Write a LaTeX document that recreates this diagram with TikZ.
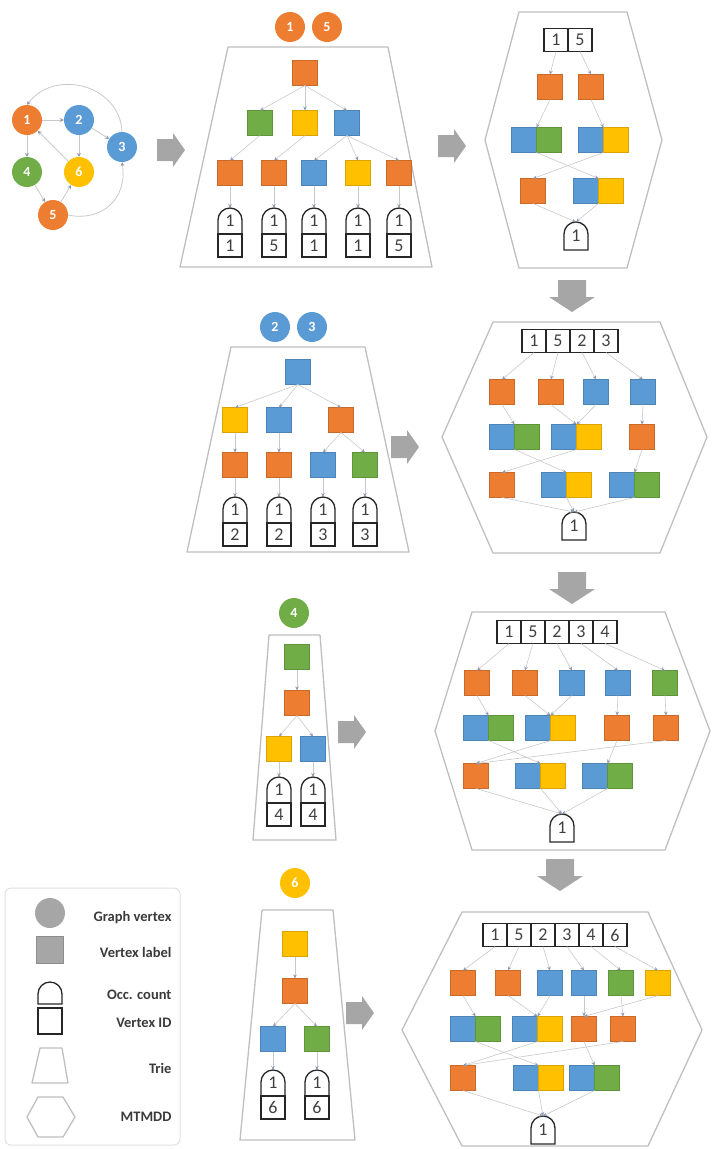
\documentclass[tikz,border=0pt]{standalone}
\usepackage{fontspec}
\setmainfont{Carlito}
\usetikzlibrary{positioning,arrows.meta}

\definecolor{vorange}{HTML}{ED7D31}
\definecolor{vblue}{HTML}{5B9BD5}
\definecolor{vgreen}{HTML}{70AD47}
\definecolor{vyellow}{HTML}{FFC000}
\definecolor{shellgray}{HTML}{BFBFBF}
\definecolor{bigarrow}{HTML}{A6A6A6}
\definecolor{linkgray}{HTML}{C9C9C9}
\definecolor{tipgray}{HTML}{8C9BB0}
\definecolor{legtext}{HTML}{3A3A3A}

\tikzset{
  gvert/.style={circle, fill=#1, minimum size=30pt, inner sep=0pt, text=white, font=\fontsize{14}{14}\selectfont\bfseries},
  vlab/.style={fill=#1, draw=#1!85!black, line width=0.3pt, minimum size=25pt, inner sep=0pt, outer sep=0pt},
  occ/.style={minimum width=24pt, minimum height=26pt, inner sep=0pt, outer sep=0pt, font=\fontsize{18}{18}\selectfont, text=black!75},
  idc/.style={draw=black!85, line width=1.3pt, minimum width=24pt, minimum height=23pt, inner sep=0pt, outer sep=0pt, font=\fontsize{18}{18}\selectfont, text=black!75},
  domeline/.style={draw=black!85, line width=1.3pt},
  shell/.style={draw=shellgray, line width=1.3pt, line join=round},
  lnk/.style={draw=linkgray, line width=0.6pt, -{Stealth[length=4pt,width=3.5pt,color=tipgray]}},
  gedge/.style={draw=linkgray, line width=0.8pt, -{Stealth[length=4pt,width=4pt,color=tipgray]}},
  legtxt/.style={anchor=east, text=legtext, font=\fontsize{14.5}{16}\selectfont\bfseries},
}

% dome outline round an occurrence node
\newcommand{\domeshape}[1]{\draw[domeline] (#1.south west) -- ([yshift=-12pt]#1.north west) arc[start angle=180, end angle=0, radius=12pt] -- (#1.south east) -- cycle;}
% block arrows, right and down
\newcommand{\rblock}[2]{\fill[bigarrow] ({#1-14},{#2-11}) -- ({#1+2},{#2-11}) -- ({#1+2},{#2-17}) -- ({#1+14},{#2}) -- ({#1+2},{#2+17}) -- ({#1+2},{#2+11}) -- ({#1-14},{#2+11}) -- cycle;}
\newcommand{\dblock}[2]{\fill[bigarrow] ({#1-14},{#2-16}) -- ({#1+14},{#2-16}) -- ({#1+14},{#2+1}) -- ({#1+23},{#2+1}) -- ({#1},{#2+16}) -- ({#1-23},{#2+1}) -- ({#1-14},{#2+1}) -- cycle;}

\begin{document}
\begin{tikzpicture}[x=1pt,y=-1pt]
\useasboundingbox (0,0) rectangle (714,1149);

% shells
\draw[shell] (228,47) -- (388,47) -- (432,267) -- (180,267) -- cycle;
\draw[shell] (231,347) -- (365,347) -- (409,552) -- (187,552) -- cycle;
\draw[shell] (269,635) -- (320,635) -- (336,840) -- (253,840) -- cycle;
\draw[shell] (262,910) -- (333,910) -- (355,1140) -- (240,1140) -- cycle;
\draw[shell] (519,12) -- (627,12) -- (662,140) -- (627,268) -- (519,268) -- (485,140) -- cycle;
\draw[shell] (493,322) -- (660,322) -- (707,437) -- (660,553) -- (493,553) -- (442,437) -- cycle;
\draw[shell] (472,612) -- (665,612) -- (710,731) -- (665,850) -- (472,850) -- (435,731) -- cycle;
\draw[shell] (462,912) -- (648,912) -- (702,1030) -- (648,1146) -- (462,1146) -- (402,1030) -- cycle;

% graph
\node[gvert=vorange] (g1) at (27,120) {1};
\node[gvert=vblue] (g2) at (79,120) {2};
\node[gvert=vblue] (g3) at (122,147) {3};
\node[gvert=vgreen] (g4) at (27,172) {4};
\node[gvert=vyellow] (g6) at (79,172) {6};
\node[gvert=vorange] (g5) at (53,215) {5};
\draw[gedge] (g1) -- (g2);
\draw[gedge] (g1) -- (g4);
\draw[gedge] (g2) -- (g6);
\draw[gedge] (g2) -- (g3);
\draw[gedge] (g6) -- (g1);
\draw[gedge] (g4) -- (g5);
\draw[gedge] (g5) -- (g6);
\draw[gedge] (g5.east) .. controls (100,222) and (128,200) .. (g3.south);
\draw[gedge] (g3.north) .. controls (120,85) and (55,68) .. (g1.north);

% big arrows
\rblock{171}{150}
\rblock{452}{146}
\dblock{572}{296}
\rblock{405}{447}
\dblock{572}{588}
\rblock{352}{732}
\dblock{560}{875}
\rblock{360}{1013}

% trie 1
\node[gvert=vorange] (t1v1) at (290,27) {1};
\node[gvert=vorange] (t1v5) at (327,27) {5};
\node[vlab=vorange] (t1a) at (305,73) {};
\node[vlab=vgreen] (t1b1) at (260,123) {};
\node[vlab=vyellow] (t1b2) at (305,123) {};
\node[vlab=vblue] (t1b3) at (347,123) {};
\node[vlab=vorange] (t1c1) at (230,173) {};
\node[vlab=vorange] (t1c2) at (274,173) {};
\node[vlab=vblue] (t1c3) at (314,173) {};
\node[vlab=vyellow] (t1c4) at (358,173) {};
\node[vlab=vorange] (t1c5) at (399,173) {};
\node[occ] (t1o1) at (230,221) {1}; \domeshape{t1o1}
\node[idc, below=0pt of t1o1] (t1i1) {1};
\node[occ] (t1o2) at (274,221) {1}; \domeshape{t1o2}
\node[idc, below=0pt of t1o2] (t1i2) {5};
\node[occ] (t1o3) at (314,221) {1}; \domeshape{t1o3}
\node[idc, below=0pt of t1o3] (t1i3) {1};
\node[occ] (t1o4) at (358,221) {1}; \domeshape{t1o4}
\node[idc, below=0pt of t1o4] (t1i4) {1};
\node[occ] (t1o5) at (399,221) {1}; \domeshape{t1o5}
\node[idc, below=0pt of t1o5] (t1i5) {5};
\draw[lnk] (t1a.south) -- (t1b1.north);
\draw[lnk] (t1a.south) -- (t1b2.north);
\draw[lnk] (t1a.south) -- (t1b3.north);
\draw[lnk] (t1b1.south) -- (t1c1.north);
\draw[lnk] (t1b2.south) -- (t1c2.north);
\draw[lnk] (t1b3.south) -- (t1c3.north);
\draw[lnk] (t1b3.south) -- (t1c4.north);
\draw[lnk] (t1b3.south) -- (t1c5.north);
\draw[lnk] (t1c1.south) -- (t1o1.north);
\draw[lnk] (t1c2.south) -- (t1o2.north);
\draw[lnk] (t1c3.south) -- (t1o3.north);
\draw[lnk] (t1c4.south) -- (t1o4.north);
\draw[lnk] (t1c5.south) -- (t1o5.north);

% trie 2
\node[gvert=vblue] (t2v2) at (275,327) {2};
\node[gvert=vblue] (t2v3) at (312,327) {3};
\node[vlab=vblue] (t2a) at (298,372) {};
\node[vlab=vyellow] (t2b1) at (235,420) {};
\node[vlab=vblue] (t2b2) at (279,420) {};
\node[vlab=vorange] (t2b3) at (341,420) {};
\node[vlab=vorange] (t2c1) at (235,465) {};
\node[vlab=vorange] (t2c2) at (279,465) {};
\node[vlab=vblue] (t2c3) at (323,465) {};
\node[vlab=vgreen] (t2c4) at (365,465) {};
\node[occ] (t2o1) at (235,510) {1}; \domeshape{t2o1}
\node[idc, below=0pt of t2o1] (t2i1) {2};
\node[occ] (t2o2) at (279,510) {1}; \domeshape{t2o2}
\node[idc, below=0pt of t2o2] (t2i2) {2};
\node[occ] (t2o3) at (323,510) {1}; \domeshape{t2o3}
\node[idc, below=0pt of t2o3] (t2i3) {3};
\node[occ] (t2o4) at (365,510) {1}; \domeshape{t2o4}
\node[idc, below=0pt of t2o4] (t2i4) {3};
\draw[lnk] (t2a.south) -- (t2b1.north);
\draw[lnk] (t2a.south) -- (t2b2.north);
\draw[lnk] (t2a.south) -- (t2b3.north);
\draw[lnk] (t2b1.south) -- (t2c1.north);
\draw[lnk] (t2b2.south) -- (t2c2.north);
\draw[lnk] (t2b3.south) -- (t2c3.north);
\draw[lnk] (t2b3.south) -- (t2c4.north);
\draw[lnk] (t2c1.south) -- (t2o1.north);
\draw[lnk] (t2c2.south) -- (t2o2.north);
\draw[lnk] (t2c3.south) -- (t2o3.north);
\draw[lnk] (t2c4.south) -- (t2o4.north);

% trie 3
\node[gvert=vgreen] (t3v4) at (294,613) {4};
\node[vlab=vgreen] (t3a) at (297,657) {};
\node[vlab=vorange] (t3b) at (297,703) {};
\node[vlab=vyellow] (t3c1) at (279,749) {};
\node[vlab=vblue] (t3c2) at (313,749) {};
\node[occ] (t3o1) at (279,790) {1}; \domeshape{t3o1}
\node[idc, below=0pt of t3o1] (t3i1) {4};
\node[occ] (t3o2) at (313,790) {1}; \domeshape{t3o2}
\node[idc, below=0pt of t3o2] (t3i2) {4};
\draw[lnk] (t3a.south) -- (t3b.north);
\draw[lnk] (t3b.south) -- (t3c1.north);
\draw[lnk] (t3b.south) -- (t3c2.north);
\draw[lnk] (t3c1.south) -- (t3o1.north);
\draw[lnk] (t3c2.south) -- (t3o2.north);

% trie 4
\node[gvert=vyellow] (t4v6) at (295,883) {6};
\node[vlab=vyellow] (t4a) at (295,944) {};
\node[vlab=vorange] (t4b) at (295,991) {};
\node[vlab=vblue] (t4c1) at (273,1039) {};
\node[vlab=vgreen] (t4c2) at (317,1039) {};
\node[occ] (t4o1) at (273,1083) {1}; \domeshape{t4o1}
\node[idc, below=0pt of t4o1] (t4i1) {6};
\node[occ] (t4o2) at (317,1083) {1}; \domeshape{t4o2}
\node[idc, below=0pt of t4o2] (t4i2) {6};
\draw[lnk] (t4a.south) -- (t4b.north);
\draw[lnk] (t4b.south) -- (t4c1.north);
\draw[lnk] (t4b.south) -- (t4c2.north);
\draw[lnk] (t4c1.south) -- (t4o1.north);
\draw[lnk] (t4c2.south) -- (t4o2.north);

% mtmdd 1
\node[idc] (m1i1) at (556,40) {1};
\node[idc, right=0pt of m1i1] (m1i5) {5};
\node[vlab=vorange] (m1a1) at (550,87) {};
\node[vlab=vorange] (m1a2) at (591,87) {};
\node[vlab=vblue] (m1b1) at (524,140) {};
\node[vlab=vgreen, right=0pt of m1b1] (m1b1g) {};
\node[vlab=vblue] (m1b2) at (591,140) {};
\node[vlab=vyellow, right=0pt of m1b2] (m1b2y) {};
\node[vlab=vorange] (m1c1) at (533,191) {};
\node[vlab=vblue] (m1c2) at (586,191) {};
\node[vlab=vyellow, right=0pt of m1c2] (m1c2y) {};
\node[occ, minimum height=28pt] (m1o) at (576,236) {1}; \domeshape{m1o}
\draw[lnk] (m1i1.south) -- (m1a1.north);
\draw[lnk] (m1i5.south) -- (m1a2.north);
\draw[lnk] (m1a1.south) -- (m1b1.north east);
\draw[lnk] (m1a2.south) -- (m1b2.north east);
\draw[lnk] (m1b1.south east) -- (m1c2.north east);
\draw[lnk] (m1b2.south east) -- (m1c1.north);
\draw[lnk] (m1c1.south) -- (m1o.north);
\draw[lnk] (m1c2.south east) -- (m1o.north);

% mtmdd 2
\node[idc] (m2i1) at (534,341) {1};
\node[idc, right=0pt of m2i1] (m2i5) {5};
\node[idc, right=0pt of m2i5] (m2i2) {2};
\node[idc, right=0pt of m2i2] (m2i3) {3};
\node[vlab=vorange] (m2a1) at (502,392) {};
\node[vlab=vorange] (m2a2) at (551,392) {};
\node[vlab=vblue] (m2a3) at (596,392) {};
\node[vlab=vblue] (m2a4) at (643,392) {};
\node[vlab=vblue] (m2b1) at (502,437) {};
\node[vlab=vgreen, right=0pt of m2b1] (m2b1g) {};
\node[vlab=vblue] (m2b2) at (564,437) {};
\node[vlab=vyellow, right=0pt of m2b2] (m2b2y) {};
\node[vlab=vorange] (m2b3) at (642,437) {};
\node[vlab=vorange] (m2c1) at (502,485) {};
\node[vlab=vblue] (m2c2) at (554,485) {};
\node[vlab=vyellow, right=0pt of m2c2] (m2c2y) {};
\node[vlab=vblue] (m2c3) at (622,485) {};
\node[vlab=vgreen, right=0pt of m2c3] (m2c3g) {};
\node[occ, minimum height=28pt] (m2o) at (574,526) {1}; \domeshape{m2o}
\draw[lnk] (m2i1.south) -- (m2a1.north);
\draw[lnk] (m2i5.south) -- (m2a2.north);
\draw[lnk] (m2i2.south) -- (m2a3.north);
\draw[lnk] (m2i3.south) -- (m2a4.north);
\draw[lnk] (m2a1.south) -- (m2b1.north east);
\draw[lnk] (m2a2.south) -- (m2b2.north east);
\draw[lnk] (m2a3.south) -- (m2b2.north east);
\draw[lnk] (m2a4.south) -- (m2b3.north);
\draw[lnk] (m2b1.south east) -- (m2c2.north east);
\draw[lnk] (m2b2.south east) -- (m2c1.north);
\draw[lnk] (m2b3.south) -- (m2c3.north east);
\draw[lnk] (m2c1.south) -- (m2o.north);
\draw[lnk] (m2c2.south east) -- (m2o.north);
\draw[lnk] (m2c3.south east) -- (m2o.north);

% mtmdd 3
\node[idc] (m3i1) at (509,632) {1};
\node[idc, right=0pt of m3i1] (m3i5) {5};
\node[idc, right=0pt of m3i5] (m3i2) {2};
\node[idc, right=0pt of m3i2] (m3i3) {3};
\node[idc, right=0pt of m3i3] (m3i4) {4};
\node[vlab=vorange] (m3a1) at (477,683) {};
\node[vlab=vorange] (m3a2) at (525,683) {};
\node[vlab=vblue] (m3a3) at (572,683) {};
\node[vlab=vblue] (m3a4) at (618,683) {};
\node[vlab=vgreen] (m3a5) at (665,683) {};
\node[vlab=vblue] (m3b1) at (476,728) {};
\node[vlab=vgreen, right=0pt of m3b1] (m3b1g) {};
\node[vlab=vblue] (m3b2) at (538,728) {};
\node[vlab=vyellow, right=0pt of m3b2] (m3b2y) {};
\node[vlab=vorange] (m3b3) at (617,728) {};
\node[vlab=vorange] (m3b4) at (666,728) {};
\node[vlab=vorange] (m3c1) at (476,776) {};
\node[vlab=vblue] (m3c2) at (528,776) {};
\node[vlab=vyellow, right=0pt of m3c2] (m3c2y) {};
\node[vlab=vblue] (m3c3) at (595,776) {};
\node[vlab=vgreen, right=0pt of m3c3] (m3c3g) {};
\node[occ, minimum height=28pt] (m3o) at (562,828) {1}; \domeshape{m3o}
\draw[lnk] (m3i1.south) -- (m3a1.north);
\draw[lnk] (m3i5.south) -- (m3a2.north);
\draw[lnk] (m3i2.south) -- (m3a3.north);
\draw[lnk] (m3i3.south) -- (m3a4.north);
\draw[lnk] (m3i4.south) -- (m3a5.north);
\draw[lnk] (m3a1.south) -- (m3b1.north east);
\draw[lnk] (m3a2.south) -- (m3b2.north east);
\draw[lnk] (m3a3.south) -- (m3b2.north east);
\draw[lnk] (m3a4.south) -- (m3b3.north);
\draw[lnk] (m3a5.south) -- (m3b4.north);
\draw[lnk] (m3b1.south east) -- (m3c2.north east);
\draw[lnk] (m3b2.south east) -- (m3c1.north);
\draw[lnk] (m3b3.south) -- (m3c3.north east);
\draw[lnk] (m3b4.south) -- (m3c1.north);
\draw[lnk] (m3c1.south) -- (m3o.north);
\draw[lnk] (m3c2.south east) -- (m3o.north);
\draw[lnk] (m3c3.south east) -- (m3o.north);

% mtmdd 4
\node[idc] (m4i1) at (495,935) {1};
\node[idc, right=0pt of m4i1] (m4i5) {5};
\node[idc, right=0pt of m4i5] (m4i2) {2};
\node[idc, right=0pt of m4i2] (m4i3) {3};
\node[idc, right=0pt of m4i3] (m4i4) {4};
\node[idc, right=0pt of m4i4] (m4i6) {6};
\node[vlab=vorange] (m4a1) at (463,983) {};
\node[vlab=vorange] (m4a2) at (508,983) {};
\node[vlab=vblue] (m4a3) at (550,983) {};
\node[vlab=vblue] (m4a4) at (584,983) {};
\node[vlab=vgreen] (m4a5) at (621,983) {};
\node[vlab=vyellow] (m4a6) at (658,983) {};
\node[vlab=vblue] (m4b1) at (463,1029) {};
\node[vlab=vgreen, right=0pt of m4b1] (m4b1g) {};
\node[vlab=vblue] (m4b2) at (525,1029) {};
\node[vlab=vyellow, right=0pt of m4b2] (m4b2y) {};
\node[vlab=vorange] (m4b3) at (584,1029) {};
\node[vlab=vorange] (m4b4) at (623,1029) {};
\node[vlab=vorange] (m4c1) at (463,1078) {};
\node[vlab=vblue] (m4c2) at (526,1078) {};
\node[vlab=vyellow, right=0pt of m4c2] (m4c2y) {};
\node[vlab=vblue] (m4c3) at (582,1078) {};
\node[vlab=vgreen, right=0pt of m4c3] (m4c3g) {};
\node[occ, minimum height=28pt] (m4o) at (543,1130) {1}; \domeshape{m4o}
\draw[lnk] (m4i1.south) -- (m4a1.north);
\draw[lnk] (m4i5.south) -- (m4a2.north);
\draw[lnk] (m4i2.south) -- (m4a3.north);
\draw[lnk] (m4i3.south) -- (m4a4.north);
\draw[lnk] (m4i4.south) -- (m4a5.north);
\draw[lnk] (m4i6.south) -- (m4a6.north);
\draw[lnk] (m4a1.south) -- (m4b1.north east);
\draw[lnk] (m4a2.south) -- (m4b2.north east);
\draw[lnk] (m4a3.south) -- (m4b2.north east);
\draw[lnk] (m4a4.south) -- (m4b3.north);
\draw[lnk] (m4a5.south) -- (m4b4.north);
\draw[lnk] (m4a6.south) -- (m4b3.north);
\draw[lnk] (m4b1.south east) -- (m4c2.north east);
\draw[lnk] (m4b2.south east) -- (m4c1.north);
\draw[lnk] (m4b3.south) -- (m4c3.north east);
\draw[lnk] (m4b4.south) -- (m4c1.north);
\draw[lnk] (m4c1.south) -- (m4o.north);
\draw[lnk] (m4c2.south east) -- (m4o.north);
\draw[lnk] (m4c3.south east) -- (m4o.north);

% legend
\draw[draw=black!12, line width=1pt, rounded corners=6pt] (5,888) rectangle (180,1145);
\node[circle, fill=bigarrow, minimum size=30pt, inner sep=0pt] (lgv) at (50,913) {};
\node[vlab=bigarrow, minimum size=27pt] (lvl) at (50,950) {};
\node[occ, minimum height=22pt] (loc) at (50,993) {}; \domeshape{loc}
\node[idc, minimum height=26pt] (lid) at (50,1021) {};
\draw[shell] (40,1048) -- (62,1048) -- (68,1083) -- (32,1083) -- cycle;
\draw[shell] (38,1097) -- (63,1097) -- (75,1117) -- (63,1137) -- (38,1137) -- (27,1117) -- cycle;
\node[legtxt] (lt1) at (175,918) {Graph vertex};
\node[legtxt] (lt2) at (175,952) {Vertex label};
\node[legtxt] (lt3) at (175,995) {Occ. count};
\node[legtxt] (lt4) at (175,1023) {Vertex ID};
\node[legtxt] (lt5) at (175,1068) {Trie};
\node[legtxt] (lt6) at (175,1117) {MTMDD};
\end{tikzpicture}
\end{document}
